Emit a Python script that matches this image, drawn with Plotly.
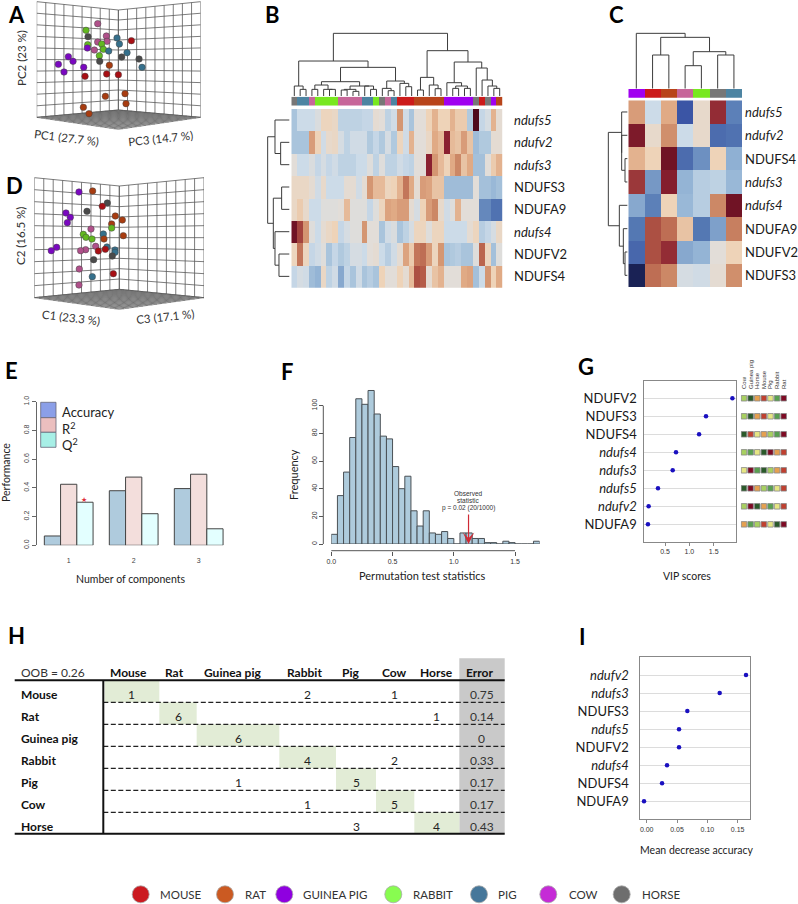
import plotly.graph_objects as go

W, H = 798, 904
FONT = "Lato"
SANS = "Liberation Sans"
GENE_SIZE = 13

# ---------- data ----------
SPECIES = ["MOUSE", "RAT", "GUINEA PIG", "RABBIT", "PIG", "COW", "HORSE"]
SP_COLORS = ["#cb1a20", "#cb5a22", "#8f00e0", "#88fc50", "#46779a", "#c52bd6", "#6e6e6e"]

pt_colors = {"r": "#a80f14", "b": "#a83c10", "p": "#7a08c0", "g": "#62b820",
             "s": "#35708c", "k": "#4a4a4a", "m": "#b0508a"}

A_x = [293,258,264,319,351,394,321,293,305,358,263,262,283,310,326,381,298,365,417,205,219,299,175,328,426,251,192,320,355,255,316,375,378,250,267]
A_y = [71,91,110,108,114,122,124,126,132,132,134,144,150,148,153,158,167,171,177,170,184,184,193,196,202,202,216,222,224,229,289,281,311,322,341]
A_c = list("mgkmsrmmgsgpmgssgkkppkpbspprrrbbbbb")

D_x = [237,278,322,307,261,198,211,202,346,367,335,335,273,310,250,258,276,370,312,287,321,316,295,257,242,170,154,345,345,337,281,238,340,277,237]
D_y = [576,573,609,619,634,639,652,668,648,660,672,684,687,702,703,712,717,707,717,739,741,748,753,749,752,742,752,750,757,768,779,807,821,830,855]
D_c = list("pbkrkpppbbbgmsgggbbmsrrmmppsskkmrsm")

B_genes = ["<i>ndufs5</i>", "<i>ndufv2</i>", "<i>ndufs3</i>", "NDUFS3", "NDUFA9", "<i>ndufs4</i>", "NDUFV2", "NDUFS4"]
B_z = [
 [-1,-.5,-.5,-.5,-.2,.4,.4,.3,-.7,-.7,-.7,-.7,-.6,-.6,.1,0,-.7,-.4,1.3,-.4,-1,0,0,.5,.9,.5,.5,.9,.6,.6,-.9,3.2,-.6,-.3,.9,.1],
 [-1,-1,-1,1.2,.5,-.4,.2,.3,-.3,-.7,-.4,-.4,-.4,-.9,-.6,-.9,-.3,-.9,.4,-.4,.9,0,0,.3,1,.8,2.5,.8,.7,1.2,.7,-1.2,-.9,-.9,.1,.1],
 [0,-.5,-.5,-.2,-.6,-.3,-.6,-.4,-.7,-.7,-.7,-.5,-.5,-.1,-.7,-.1,-.7,-.7,-.4,-.6,-.7,0,0,2.5,1.3,.8,.5,1,1.5,.7,1,-1.1,-1.1,0,.6,.9],
 [.3,.3,.3,.1,-.4,.2,-.5,-.5,-.5,.1,.1,-.4,.1,1.3,.8,.8,.4,.5,.9,1.7,1,.1,1.2,1.1,.7,.7,-1.2,-1.2,-1.2,-1.2,-1.2,0,-1.1,-1.1,-1.3,-1.1],
 [.3,.6,.2,-.5,-.5,-.1,-.1,-.1,0,.8,-.1,-.1,-.1,-.6,-.1,.4,1.1,1,1.2,1.2,.1,-.3,.5,1.2,1.5,.2,-.4,-.1,.9,0,0,0,-2,-2,-2.3,-2.3],
 [2.9,2.2,1.3,-.1,-.5,.1,.3,.5,-.6,-.3,-.1,-.1,1.3,0,0,-1,-.4,-.2,-1,-.7,-.3,.4,.4,-.1,.4,.4,-.5,-.5,-.5,-.5,.1,.4,-.8,-.6,-.3,.3],
 [.4,1.7,.4,-.6,-.4,-.1,-1,-.6,-.9,-.7,-.3,-.3,-.5,0,.1,-.5,-.8,-.4,.1,1.1,.6,1.7,1.8,1.2,.4,1.3,-1,-.9,-.8,-1,-1,-.1,1.9,.4,-1.1,-.1],
 [-.6,-.3,-.4,-1.2,-1.4,.3,-.7,-.4,-1.6,-.6,-1,-.4,-1,-.8,-1,.5,0,0,.5,.1,.8,2.1,2,.1,.7,.9,0,0,0,1,1.1,-1.1,-.5,1.3,.5,1],
]
B_bar_groups = [(6,1),(4,2),(5,1),(3,4),(5,4),(4,2),(3,1),(6,1),(5,1),(4,1),(0,3),(1,5),(2,5),(6,1),(0,1),(6,1),(2,1),(1,1)]
_b_n2 = (0,(1,2,268),258)
_b_d = ((3,4,268),(5,(6,7,268),268),255)
_b_g = ((8,9,270),(10,11,274),268)
_b_m = (12,(13,14,268),258)
_b_top = (_b_d,(_b_g,_b_m,258),245)
_b_s = ((15,(16,17,272),265),(18,(19,20,260),250),243)
_b_left = (_b_n2,(_b_top,_b_s,202),183)
_b_x = ((21,22,270),(23,(24,25,266),255),232)
_b_aa = (26,((27,28,265),(29,30,265),258),248)
_b_r = (31,(32,(33,(34,35,265),258),240),204)
B_col_tree = (_b_left,(_b_x,(_b_aa,_b_r,186),152),100)
B_row_tree = ((0,(1,2,92),75),((3,4,95),(5,(6,7,87),75),70),53)

C_genes = ["<i>ndufs5</i>", "<i>ndufv2</i>", "NDUFS4", "<i>ndufs3</i>", "<i>ndufs4</i>", "NDUFA9", "NDUFV2", "NDUFS3"]
C_z = [
 [1.2,-.5,1.0,-2.8,.2,2.4,-2.1],
 [2.7,.2,1.4,-.5,.2,-2.4,-2.3],
 [.9,.5,2.9,-2.4,-1.9,.5,-1.5],
 [2.3,-1.8,2.6,-1.4,-.8,-.7,-1.3],
 [-1.6,-2.1,.5,-1.3,-.8,1.5,2.9],
 [-2.2,2.1,1.8,.7,-2.2,-1.7,1.6],
 [-2.5,2.1,2.4,-1.6,-1.4,0,.5],
 [-3.3,1.8,1.5,-.3,-.4,.1,1.4],
]
C_bar = [2,0,1,5,3,6,4]
C_col_tree = (0,((1,2,165),((3,4,197),(5,6,165),155),112),100)
C_row_tree = ((0,(1,(2,3,105),95),95),(4,(5,(6,7,105),100),88),55)
BAR_COLORS = ["#cc1a1a","#b8441a","#a000f0","#78e820","#4d84a2","#c76699","#777777"]

E_groups = [1,2,3]
E_accuracy = [0.065,0.38,0.395]
E_r2 = [0.425,0.475,0.495]
E_q2 = [0.30,0.22,0.115]

F_counts = [7,35,52,77,105,101,111,94,78,76,56,40,49,24,13,24,8,7,9,4,0,8,8,4,4,1,1,0,2,1,0,0,0,2]
F_bin = 0.05

G_genes = ["NDUFV2","NDUFS3","NDUFS4","<i>ndufs4</i>","<i>ndufs3</i>","<i>ndufs5</i>","<i>ndufv2</i>","NDUFA9"]
G_vip = [1.884,1.342,1.2,.726,.658,.356,.164,.15]
G_species = ["Cow","Guinea pig","Horse","Mouse","Pig","Rabbit","Rat"]
G_rank = [
 [5,7,3,2,4,6,1],
 [5,7,3,2,4,6,1],
 [7,2,4,3,5,6,1],
 [5,6,4,7,1,3,2],
 [4,1,6,7,5,3,2],
 [7,1,3,5,6,4,2],
 [5,1,7,3,6,4,2],
 [3,6,5,2,4,7,1],
]
RANK_COLORS = {1:"#7e0a24",2:"#c04030",3:"#e5a050",4:"#e6e684",5:"#a8d060",6:"#58a050",7:"#2a5a2a"}

H_classes = ["Mouse","Rat","Guinea pig","Rabbit","Pig","Cow","Horse"]
H_matrix = [
 [1,0,0,2,0,1,0],
 [0,6,0,0,0,0,1],
 [0,0,6,0,0,0,0],
 [0,0,0,4,0,2,0],
 [0,0,1,0,5,0,0],
 [0,0,0,1,0,5,0],
 [0,0,0,0,3,0,4],
]
H_error = ["0.75","0.14","0","0.33","0.17","0.17","0.43"]

I_genes = ["<i>ndufv2</i>","<i>ndufs3</i>","NDUFS3","<i>ndufs5</i>","NDUFV2","<i>ndufs4</i>","NDUFS4","NDUFA9"]
I_mda = [.1637,.1203,.067,.0533,.0533,.0335,.0253,-.0044]

# ---------- helpers ----------
fig = go.Figure()
layout = {}
annotations = []
shapes = []
axis_id = [0]
HEAT_SCALE_PTS = [(-3.3,"#1a2255"),(-2.8,"#3b55a5"),(-2.2,"#5478b3"),(-1.5,"#8fb0d3"),(-1,"#a9c4dc"),(-.5,"#ccdbe8"),
                  (0,"#e2ddd8"),(.5,"#eed3b8"),(1,"#e0aa85"),(1.5,"#cc8866"),(2,"#b55c48"),(2.5,"#8a2030"),(3,"#6a1022"),(3.3,"#400418")]
HEAT_SCALE = [[(v+3.3)/6.6, c] for v, c in HEAT_SCALE_PTS]


def axes(x0, x1, y0, y1, xrange, yrange, xkw=None, ykw=None):
    axis_id[0] += 1
    n = axis_id[0]
    xk = dict(domain=[x0/W, x1/W], range=xrange, visible=False, fixedrange=True, anchor=f"y{n}" if n > 1 else "y")
    yk = dict(domain=[1-y1/H, 1-y0/H], range=yrange, visible=False, fixedrange=True, anchor=f"x{n}" if n > 1 else "x")
    if xkw: xk.update(xkw)
    if ykw: yk.update(ykw)
    layout[f"xaxis{n}" if n > 1 else "xaxis"] = xk
    layout[f"yaxis{n}" if n > 1 else "yaxis"] = yk
    return (f"x{n}", f"y{n}") if n > 1 else ("x", "y")


def text(x, y, s, size=12, color="#222", anchor="center", angle=0, bold=False, font=FONT):
    if bold:
        s = f"<b>{s}</b>"
    annotations.append(dict(x=x, y=y, xref="x", yref="y", text=s, showarrow=False, xanchor=anchor, yanchor="middle",
                            textangle=angle, borderpad=0, borderwidth=0, font=dict(size=size, color=color, family=font)))


def rect(x0, y0, x1, y1, fill, line=None, lw=1):
    shapes.append(dict(type="rect", xref="x", yref="y", x0=x0, y0=y0, x1=x1, y1=y1, fillcolor=fill,
                       line=dict(color=line or "rgba(0,0,0,0)", width=lw if line else 0)))


def hline(x0, y0, x1, y1, color="#111", w=1, dash="solid"):
    shapes.append(dict(type="line", xref="x", yref="y", x0=x0, y0=y0, x1=x1, y1=y1, line=dict(color=color, width=w, dash=dash)))


# canvas
cx, cy = axes(0, W, 0, H, [0, W], [H, 0])
fig.add_trace(go.Scatter(x=[0], y=[0], mode="markers", marker=dict(size=1, opacity=0), xaxis=cx, yaxis=cy, hoverinfo="skip"))


def wall_box(xa, ya, L, Ct, R, Lb, Cb, Rb, F, nh=10, nv=9):
    xs, ys = [], []
    def seg(p, q):
        xs.extend([p[0], q[0], None]); ys.extend([p[1], q[1], None])
    def lerp(p, q, t):
        return (p[0]+(q[0]-p[0])*t, p[1]+(q[1]-p[1])*t)
    for i in range(nh+1):
        t = i/nh
        a, b, c = lerp(L, Lb, t), lerp(Ct, Cb, t), lerp(R, Rb, t)
        seg(a, b); seg(b, c)
    for i in range(nv+1):
        t = i/nv
        seg(lerp(L, Ct, t), lerp(Lb, Cb, t))
        seg(lerp(Ct, R, t), lerp(Cb, Rb, t))
    fig.add_trace(go.Scatter(x=xs, y=ys, mode="lines", line=dict(color="#5a5a5a", width=0.8), xaxis=xa, yaxis=ya, hoverinfo="skip"))
    xs2, ys2 = [], []
    def seg2(p, q):
        xs2.extend([p[0], q[0], None]); ys2.extend([p[1], q[1], None])
    n = 18
    for i in range(n+1):
        t = i/n
        seg2(lerp(Lb, Cb, t), lerp(F, Rb, t))
        seg2(lerp(Lb, F, t), lerp(Cb, Rb, t))
    fig.add_trace(go.Scatter(x=xs2, y=ys2, mode="lines", line=dict(color="#555", width=0.6), xaxis=xa, yaxis=ya, hoverinfo="skip"))


def points(xa, ya, xs, ys, cs):
    fig.add_trace(go.Scatter(x=xs, y=ys, mode="markers",
                             marker=dict(size=6.5, color=[pt_colors[c] for c in cs], line=dict(color="#444", width=0.5)),
                             xaxis=xa, yaxis=ya, hoverinfo="skip"))


# ---------- A ----------
xa, ya = axes(36.7, 200.7, 0, 130, [110, 602], [390, 0])
wall_box(xa, ya, (110,5), (355,30), (602,5), (110,352), (355,330), (602,352), (355,388))
points(xa, ya, A_x, A_y, A_c)
text(21, 58, "PC2 (23 %)", 11.5, "#333", angle=-90)
text(66, 137, "PC1 (27.7 %)", 11.5, "#333", angle=7)
text(160, 138, "PC3 (14.7 %)", 11.5, "#333", angle=-6)

# ---------- D ----------
xa, ya = axes(34.3, 204, 176, 310, [103, 612], [930, 528])
wall_box(xa, ya, (103,533), (358,558), (612,533), (103,893), (358,868), (612,893), (358,928))
points(xa, ya, D_x, D_y, D_c)
text(20, 236, "C2 (16.5 %)", 11.5, "#333", angle=-90)
text(71, 317, "C1 (23.3 %)", 11.5, "#333", angle=7)
text(165, 316, "C3 (17.1 %)", 11.5, "#333", angle=-6)


# ---------- dendrograms ----------
def tree_lines(node, leaf_pos, leaf_h):
    xs, hs = [], []
    def rec(nd):
        if isinstance(nd, int):
            return leaf_pos(nd), leaf_h
        p1, h1 = rec(nd[0])
        p2, h2 = rec(nd[1])
        h = nd[2]
        xs.extend([p1, p1, p2, p2, None])
        hs.extend([h1, h, h, h2, None])
        return (p1+p2)/2, h
    rec(node)
    return xs, hs


def dendro(node, leaf_pos, leaf_h, vertical, x0, x1, y0, y1, xr, yr):
    xa, ya = axes(x0, x1, y0, y1, xr, yr)
    p, h = tree_lines(node, leaf_pos, leaf_h)
    X, Y = (p, h) if vertical else (h, p)
    fig.add_trace(go.Scatter(x=X, y=Y, mode="lines", line=dict(color="#3c3c3c", width=1), xaxis=xa, yaxis=ya, hoverinfo="skip"))


# ---------- B ----------
BX0, BX1, BY0, BY1 = 291.3, 502.7, 109, 287.7
xa, ya = axes(BX0, BX1, BY0, BY1, [-.5, 35.5], [7.5, -.5])
fig.add_trace(go.Heatmap(z=B_z, colorscale=HEAT_SCALE, zmin=-3.3, zmax=3.3, showscale=False, xaxis=xa, yaxis=ya, hoverinfo="skip"))
bar_b = []
for g, n in B_bar_groups:
    bar_b += [g]*n
DISC = [[i/6, c] for i, c in enumerate(BAR_COLORS)]
xa, ya = axes(BX0, BX1, 96.7, 105.7, [-.5, 35.5], [.5, -.5])
fig.add_trace(go.Heatmap(z=[bar_b], colorscale=DISC, zmin=0, zmax=6, showscale=False, xaxis=xa, yaxis=ya, hoverinfo="skip"))
dendro(B_col_tree, lambda i: 133+17.6*i, 288, True, BX0, BX1, 30, 96.7, [124, 758], [290, 90])
dendro(B_row_tree, lambda i: 360+67*i, 118, False, 265, 290.3, BY0, BY1, [45, 121], [863, 327])
for i, g in enumerate(B_genes):
    text(514, (360+67*i)/3, g, GENE_SIZE, "#1a1a1a", anchor="left")

# ---------- C ----------
CX0, CX1, CY0, CY1 = 628.3, 742, 100.3, 287
xa, ya = axes(CX0, CX1, CY0, CY1, [-.5, 6.5], [7.5, -.5])
fig.add_trace(go.Heatmap(z=C_z, colorscale=HEAT_SCALE, zmin=-3.3, zmax=3.3, showscale=False, xaxis=xa, yaxis=ya, hoverinfo="skip"))
xa, ya = axes(CX0, CX1, 89, 97.7, [-.5, 6.5], [.5, -.5])
fig.add_trace(go.Heatmap(z=[C_bar], colorscale=DISC, zmin=0, zmax=6, showscale=False, xaxis=xa, yaxis=ya, hoverinfo="skip"))
dendro(C_col_tree, lambda i: 139+48.8*i, 266, True, CX0, CX1, 30, 88.7, [115, 456], [266, 90])
dendro(C_row_tree, lambda i: 336+70*i, 112, False, 605, 628, CY0, CY1, [45, 114], [861, 301])
for i, g in enumerate(C_genes):
    text(745, (336+70*i)/3, g, GENE_SIZE, "#1a1a1a", anchor="left")

# ---------- E ----------
xa, ya = axes(36.7, 230, 401.7, 545.3, [1-32/65, 1+(230-68.7)/65], [0, 1],
              xkw=dict(visible=True, showline=False, showgrid=False, zeroline=False, tickvals=E_groups, ticktext=["1","2","3"],
                       ticks="outside", ticklen=8, tickcolor="rgba(0,0,0,0)", tickfont=dict(size=7, family=SANS, color="#444")),
              ykw=dict(visible=True, showline=True, linecolor="#666", showgrid=False, zeroline=False, tickvals=[0,.2,.4,.6,.8,1],
                       ticktext=["0.0","0.2","0.4","0.6","0.8","1.0"], ticks="outside", ticklen=4, tickcolor="#666", tickangle=-90,
                       tickfont=dict(size=7, family=SANS, color="#444")))
for vals, col in ((E_accuracy, "#afcbdd"), (E_r2, "#f3dedc"), (E_q2, "#e3ffff")):
    fig.add_trace(go.Bar(x=E_groups, y=vals, marker=dict(color=col, line=dict(color="#444", width=1)),
                         xaxis=xa, yaxis=ya, hoverinfo="skip", offsetgroup=col))
for (y0, y1), col in zip(((402.3,417.7),(417.7,432.3),(432.3,447.3)), ("#8b9fe8","#ebbfbf","#a7efe6")):
    rect(40.7, y0, 56, y1, col, "#667", 0.8)
text(62, 412, "Accuracy", 13, "#222", anchor="left")
text(62, 428, "R<sup>2</sup>", 13, "#222", anchor="left")
text(62, 444, "Q<sup>2</sup>", 13, "#222", anchor="left")
text(84.3, 500, "★", 7, "#e0303a", font="DejaVu Sans")
text(6, 473, "Performance", 10.5, "#222", angle=-90)
text(130, 579, "Number of components", 10.5, "#222")

# ---------- F ----------
F_x = [F_bin*(i+.5) for i in range(len(F_counts))]
xa, ya = axes(331.3, 539.6, 385, 544, [0, 1.7], [0, 159/1.383],
              xkw=dict(visible=True, showline=False, showgrid=False, zeroline=False, anchor="free", position=1-550.7/H,
                       tickvals=[0,.5,1,1.5], ticktext=["0.0","0.5","1.0","1.5"], ticks="outside", ticklen=4, tickcolor="#555",
                       tickfont=dict(size=7, family=SANS, color="#333")),
              ykw=dict(visible=True, showline=False, showgrid=False, zeroline=False, anchor="free", position=323.3/W,
                       tickvals=[0,20,40,60,80,100], ticks="outside", ticklen=4, tickcolor="#555", tickangle=-90,
                       tickfont=dict(size=7, family=SANS, color="#333")))
fig.add_trace(go.Bar(x=F_x, y=F_counts, width=F_bin, marker=dict(color="#aecbdc", line=dict(color="#4a5055", width=1)),
                     xaxis=xa, yaxis=ya, hoverinfo="skip"))
hline(331.3, 550.7, 515, 550.7, "#555", 1)
hline(323.3, 405.7, 323.3, 544, "#555", 1)
annotations.append(dict(x=1.12, y=0, xref=xa, yref=ya, ax=0, ay=-31, showarrow=True, arrowcolor="#cf2a35", arrowwidth=1.2,
                        arrowhead=3, arrowsize=1.6, text=""))
for t, y in (("Observed", 493), ("statistic", 500.3), ("p = 0.02 (20/1000)", 507.6)):
    text(468.3, y, t, 6.5, "#333", font=SANS)
text(293, 475, "Frequency", 11, "#222", angle=-90)
text(422.7, 575, "Permutation test statistics", 11, "#222")

# ---------- G ----------
xa, ya = axes(644.3, 736, 380.7, 542, [0.075, 1.958], [7.98, -.98],
              xkw=dict(visible=True, showline=True, mirror=True, linecolor="#888", showgrid=False, zeroline=False, tickvals=[.5,1,1.5],
                       ticktext=["0.5","1.0","1.5"], ticks="outside", ticklen=3, tickcolor="#888", tickfont=dict(size=7, family=SANS, color="#333")),
              ykw=dict(visible=True, showline=True, mirror=True, linecolor="#888", showgrid=True, gridcolor="#dcdcdc", zeroline=False,
                       tickvals=list(range(8)), ticktext=G_genes, ticks="outside", ticklen=4, tickcolor="rgba(0,0,0,0)",
                       tickfont=dict(size=GENE_SIZE, family=FONT, color="#1a1a1a")))
fig.add_trace(go.Scatter(x=G_vip, y=list(range(8)), mode="markers", marker=dict(size=4.5, color="#1a10c0"), xaxis=xa, yaxis=ya, hoverinfo="skip"))
xa, ya = axes(740.7, 787, 390, 542, [-.5, 6.5], [7.98, -.46],
              xkw=dict(visible=True, side="top", showline=False, showgrid=False, zeroline=False, tickvals=list(range(7)), ticktext=G_species,
                       tickangle=-90, ticks="", tickfont=dict(size=6, family=SANS, color="#333")))
sx, sy, sc = [], [], []
for r, row in enumerate(G_rank):
    for c, v in enumerate(row):
        sx.append(c); sy.append(r); sc.append(RANK_COLORS[v])
fig.add_trace(go.Scatter(x=sx, y=sy, mode="markers", marker=dict(symbol="square", size=5.5, color=sc, line=dict(color="#888", width=0.8)),
                         xaxis=xa, yaxis=ya, hoverinfo="skip"))
text(687, 576, "VIP scores", 10.5, "#222")

# ---------- H ----------
col_edges = [314, 478, 590, 838, 1008, 1128, 1243, 1378]
num_x = [393, 534, 714, 922, 1068, 1184, 1310]
head_x = [385, 524, 697, 912, 1051, 1182, 1309]
rect(459.3, 658.3, 504.7, 833.7, "#c9c9c9")
row_tops = [680.3 + 22*i for i in range(7)] + [833.7]
for i in range(7):
    rect(col_edges[i]/3, row_tops[i], col_edges[i+1]/3, row_tops[i+1], "#e2ecd6")
for i in range(1, 7):
    hline(103.3, row_tops[i], 504.7, row_tops[i], "#222", 1.2, "5px,2.5px")
hline(14.7, 680.3, 504.7, 680.3, "#111", 2)
hline(14.7, 833.7, 504.7, 833.7, "#111", 2)
hline(103.3, 680.3, 103.3, 833.7, "#111", 2)
text(20.7, 672.3, "OOB = 0.26", 12, "#333", anchor="left")
for c, hx in zip(H_classes, head_x):
    text(hx/3, 672.3, c, 12, "#111", bold=True)
text(1438/3, 672.3, "Error", 12, "#111", bold=True)
for i, c in enumerate(H_classes):
    y = 694.3 + 22*i
    text(20.7, y, c, 12, "#111", anchor="left", bold=True)
    for j, v in enumerate(H_matrix[i]):
        if v:
            text(num_x[j]/3, y, str(v), 12, "#222")
    text(1445/3, y, H_error[i], 12, "#333")

# ---------- I ----------
xa, ya = axes(640.3, 750.3, 656.7, 819.3, [-0.01055, .1708], [8, -1.017],
              xkw=dict(visible=True, showline=True, mirror=True, linecolor="#888", showgrid=False, zeroline=False, tickvals=[0,.05,.1,.15],
                       ticktext=["0.00","0.05","0.10","0.15"], ticks="outside", ticklen=3, tickcolor="#888", tickfont=dict(size=7, family=SANS, color="#333")),
              ykw=dict(visible=True, showline=True, mirror=True, linecolor="#888", showgrid=True, gridcolor="#dcdcdc", zeroline=False,
                       tickvals=list(range(8)), ticktext=I_genes, ticks="outside", ticklen=8, tickcolor="rgba(0,0,0,0)",
                       tickfont=dict(size=GENE_SIZE, family=FONT, color="#1a1a1a")))
fig.add_trace(go.Scatter(x=I_mda, y=list(range(8)), mode="markers", marker=dict(size=4.5, color="#1a10c0"), xaxis=xa, yaxis=ya, hoverinfo="skip"))
text(696, 850, "Mean decrease accuracy", 10.5, "#222")

# ---------- species legend ----------
leg_cx = [140.7, 225, 284.3, 393.3, 479, 548.3, 621.7]
leg_tx = [160, 244.7, 303.3, 413, 498.3, 569, 641.7]
fig.add_trace(go.Scatter(x=leg_cx, y=[894.3]*7, mode="markers", marker=dict(size=17, color=SP_COLORS, line=dict(color="#aaa", width=0.8)),
                         xaxis=cx, yaxis=cy, hoverinfo="skip"))
for t, x in zip(SPECIES, leg_tx):
    text(x, 894, t, 11.5, "#333", anchor="left")

# ---------- panel letters ----------
for s, x, y in (("A",16,14),("B",272.7,14),("C",616,14),("D",14,185),("E",11,370.7),("F",287,371),("G",586,366),("H",16.7,635.7),("I",582.7,636.7)):
    text(x, y, s, 22, "#000", bold=True)

fig.update_layout(width=W, height=H, margin=dict(l=0, r=0, t=0, b=0, pad=0, autoexpand=False), paper_bgcolor="white", plot_bgcolor="rgba(0,0,0,0)",
                  showlegend=False, barmode="group", bargap=.25, bargroupgap=0, annotations=annotations, shapes=shapes, **layout)
fig.write_html("out.html", post_script="document.body.style.margin='0';document.body.style.overflow='hidden';",
               config={"displayModeBar": False})
